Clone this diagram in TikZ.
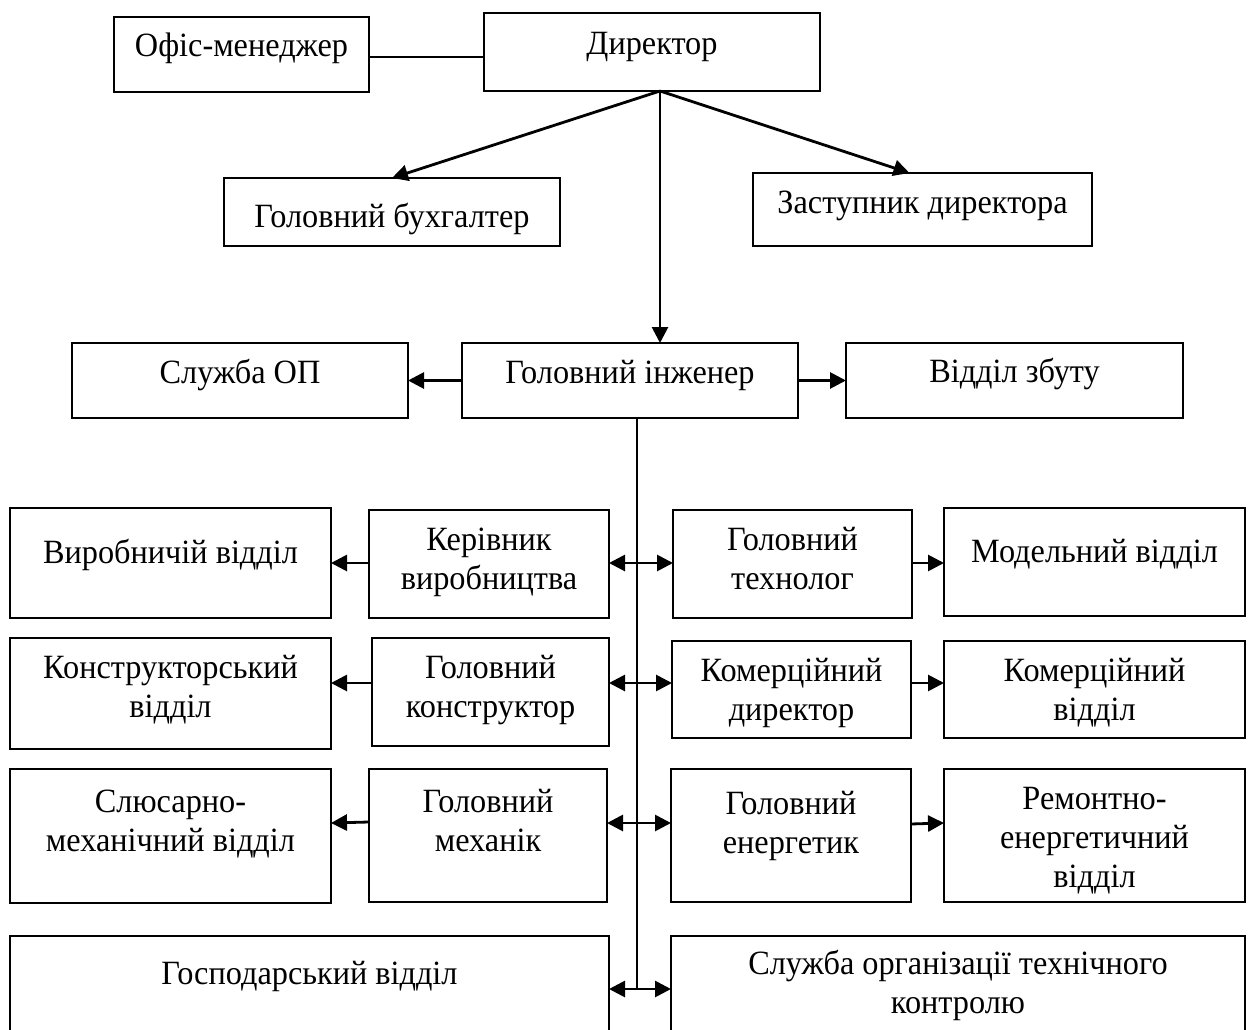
\documentclass[tikz,border=0pt]{standalone}
\usepackage{fontspec}
\setmainfont[FakeStretch=0.95]{Liberation Serif}
\usetikzlibrary{arrows.meta}
\newcommand\obox[7]{%
  \node[orgbox, anchor=north west] (#1) at (#2,#3)
    {\parbox[c][\dimexpr #5pt-#3pt\relax][t]{\dimexpr #4pt-#2pt\relax}{\centering\vspace*{#6pt}\strut #7}};}
\tikzset{
  orgbox/.style={draw=black, line width=1.8pt, inner sep=0pt, outer sep=0pt,
    font=\fontsize{34}{39}\selectfont},
  conn/.style={draw=black, line width=2.8pt},
  arr/.style={conn, -{Triangle[length=16pt,width=16pt]}},
  darr/.style={conn, {Triangle[length=16pt,width=16pt]}-{Triangle[length=16pt,width=16pt]}}
}
\begin{document}
\begin{tikzpicture}[x=1pt,y=-1pt]
\useasboundingbox (0,0) rectangle (1251,1030);
\clip (0,0) rectangle (1251,1030);
\fill[white] (0,0) rectangle (1251,1030);
% boxes
\obox{office}{114}{17}{369}{92}{12}{Офіс-менеджер}
\obox{dir}{484}{13}{820}{91}{14}{Директор}
\obox{buh}{224}{178}{560}{246}{22}{Головний бухгалтер}
\obox{zast}{753}{173}{1092}{246}{13}{Заступник директора}
\obox{op}{72}{343}{408}{418}{13}{Служба ОП}
\obox{eng}{462}{343}{798}{418}{13}{Головний інженер}
\obox{zbut}{846}{343}{1183}{418}{12}{Відділ збуту}
\obox{vyr}{10}{508}{331}{618}{28}{Виробничій відділ}
\obox{kerv}{369}{510}{609}{618}{13}{Керівник\\виробництва}
\obox{tech}{673}{510}{912}{618}{13}{Головний\\технолог}
\obox{model}{944}{508}{1245}{616}{27}{Модельний відділ}
\obox{konv}{10}{638}{331}{749}{13}{Конструкторський\\відділ}
\obox{konstr}{372}{638}{609}{746}{13}{Головний\\конструктор}
\obox{komdir}{672}{641}{911}{738}{13}{Комерційний\\директор}
\obox{komv}{944}{641}{1245}{738}{13}{Комерційний\\відділ}
\obox{slus}{10}{769}{331}{903}{16}{Слюсарно-\\механічний відділ}
\obox{mech}{369}{769}{607}{902}{16}{Головний\\механік}
\obox{energ}{671}{769}{911}{902}{18}{Головний\\енергетик}
\obox{remv}{944}{769}{1245}{902}{13}{Ремонтно-\\енергетичний\\відділ}
\obox{gosp}{10}{936}{609}{1045}{21}{Господарський відділ}
\obox{stk}{671}{936}{1245}{1045}{11}{Служба організації технічного\\контролю}
% helper coordinates
\coordinate (dbot) at (660,91);
\coordinate (sptop) at (637,418);
\coordinate (r1) at (637,563);
\coordinate (r2) at (637,683);
\coordinate (r3) at (637,823);
\coordinate (r4) at (637,989);
% top connectors
\draw[conn] ([yshift=-2.5pt]office.east) -- ([yshift=-5pt]dir.west);
\draw[arr] (dbot) -- (buh.north);
\draw[arr] (dbot) -- ([xshift=-13pt]zast.north);
\draw[arr] (dbot) -- (dbot |- eng.north);
\draw[arr] (eng.west) -- (op.east);
\draw[arr] (eng.east) -- (zbut.west);
% spine
\draw[conn] (sptop) -- (r4);
\draw[darr] (kerv.east |- r1) -- (tech.west |- r1);
\draw[darr] (konstr.east |- r2) -- (komdir.west |- r2);
\draw[darr] (mech.east |- r3) -- (energ.west |- r3);
\draw[darr] (gosp.east |- r4) -- (stk.west |- r4);
% side connectors
\draw[arr] (kerv.west |- r1) -- (vyr.east |- r1);
\draw[arr] (tech.east |- r1) -- (model.west |- r1);
\draw[arr] (konstr.west |- r2) -- (konv.east |- r2);
\draw[arr] (komdir.east |- r2) -- (komv.west |- r2);
\draw[arr] ([yshift=1pt]mech.west |- r3) -- (slus.east |- r3);
\draw[arr] ([yshift=-1pt]energ.east |- r3) -- (remv.west |- r3);
\end{tikzpicture}
\end{document}
